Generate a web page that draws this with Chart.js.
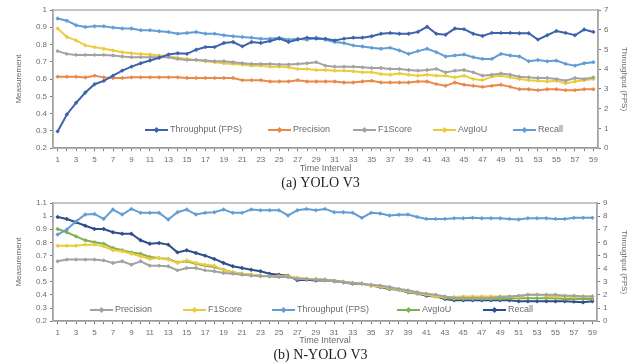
<!DOCTYPE html>
<html>
<head>
<meta charset="utf-8">
<script src="https://cdn.jsdelivr.net/npm/chart.js@4.4.0/dist/chart.umd.min.js"></script>
<style>
  html, body { margin: 0; padding: 0; background: #fff; }
  body { width: 641px; height: 364px; position: relative; overflow: hidden; }
  canvas { position: absolute; left: 0; }
  #chartA { top: 0; }
  #chartB { top: 192px; }
</style>
</head>
<body>
<canvas id="chartA" width="641" height="192"></canvas>
<canvas id="chartB" width="641" height="172"></canvas>
<script>
// time intervals (x categories)
const intervals = ['1','2','3','4','5','6','7','8','9','10','11','12','13','14','15','16','17','18','19','20',
  '21','22','23','24','25','26','27','28','29','30','31','32','33','34','35','36','37','38','39','40',
  '41','42','43','44','45','46','47','48','49','50','51','52','53','54','55','56','57','58','59'];

// (a) YOLO V3
const yoloThroughput = [0.85,1.71,2.30,2.82,3.24,3.41,3.67,3.93,4.13,4.30,4.44,4.58,4.75,4.81,4.78,4.99,5.12,5.12,5.33,5.38,
  5.16,5.38,5.33,5.43,5.55,5.38,5.50,5.60,5.55,5.55,5.46,5.55,5.60,5.60,5.67,5.80,5.84,5.80,5.80,5.89,
  6.15,5.80,5.75,6.06,6.03,5.80,5.68,5.84,5.84,5.84,5.82,5.82,5.50,5.72,5.94,5.84,5.72,6.01,5.89];
const yoloPrecision = [0.614,0.614,0.614,0.610,0.620,0.610,0.606,0.606,0.610,0.610,0.610,0.610,0.610,0.610,0.606,0.606,0.606,0.606,0.606,0.606,
  0.594,0.594,0.594,0.586,0.586,0.586,0.594,0.586,0.586,0.586,0.586,0.580,0.580,0.586,0.590,0.580,0.580,0.580,0.580,
  0.586,0.586,0.571,0.561,0.580,0.567,0.561,0.555,0.561,0.567,0.555,0.541,0.541,0.536,0.541,0.541,0.536,0.536,0.541,0.541];
const yoloF1 = [0.762,0.746,0.740,0.740,0.740,0.740,0.737,0.731,0.727,0.727,0.727,0.727,0.727,0.717,0.711,0.711,0.707,0.703,0.703,0.698,
  0.692,0.688,0.688,0.688,0.684,0.684,0.688,0.692,0.698,0.678,0.672,0.672,0.672,0.668,0.664,0.664,0.659,0.659,0.653,
  0.649,0.653,0.659,0.639,0.649,0.653,0.639,0.620,0.625,0.633,0.625,0.614,0.610,0.606,0.606,0.600,0.590,0.606,0.600,0.610];
const yoloAvgIoU = [0.893,0.844,0.824,0.795,0.785,0.776,0.766,0.756,0.750,0.746,0.742,0.737,0.731,0.723,0.717,0.711,0.703,0.698,0.692,0.688,
  0.684,0.678,0.678,0.672,0.672,0.668,0.659,0.659,0.653,0.653,0.649,0.649,0.645,0.639,0.639,0.629,0.625,0.633,0.625,
  0.620,0.625,0.620,0.620,0.610,0.620,0.600,0.594,0.614,0.620,0.610,0.600,0.594,0.590,0.586,0.590,0.575,0.586,0.594,0.600];
const yoloRecall = [0.951,0.938,0.912,0.902,0.906,0.906,0.898,0.893,0.893,0.883,0.883,0.877,0.873,0.863,0.867,0.873,0.863,0.863,0.854,0.848,
  0.844,0.840,0.834,0.834,0.840,0.828,0.834,0.828,0.840,0.828,0.815,0.809,0.795,0.789,0.781,0.776,0.781,0.766,0.746,
  0.762,0.776,0.756,0.731,0.737,0.742,0.727,0.717,0.717,0.746,0.737,0.731,0.703,0.711,0.703,0.707,0.688,0.678,0.692,0.698];

// (b) N-YOLO V3
const nPrecision = [0.656,0.669,0.669,0.669,0.669,0.663,0.643,0.656,0.630,0.656,0.623,0.623,0.618,0.587,0.605,0.605,0.587,0.580,0.567,0.562,
  0.554,0.547,0.542,0.542,0.537,0.537,0.521,0.521,0.516,0.516,0.504,0.496,0.491,0.486,0.478,0.471,0.460,0.445,0.435,
  0.420,0.410,0.402,0.389,0.377,0.377,0.377,0.377,0.377,0.384,0.389,0.394,0.402,0.402,0.402,0.402,0.394,0.394,0.389,0.389];
const nF1 = [0.775,0.775,0.775,0.783,0.783,0.770,0.740,0.732,0.714,0.694,0.674,0.681,0.669,0.643,0.663,0.643,0.630,0.623,0.587,0.572,
  0.562,0.554,0.547,0.542,0.542,0.542,0.529,0.521,0.521,0.516,0.504,0.496,0.491,0.486,0.471,0.465,0.453,0.440,0.427,
  0.415,0.402,0.389,0.384,0.384,0.389,0.389,0.389,0.389,0.389,0.389,0.384,0.402,0.402,0.394,0.389,0.389,0.384,0.389,0.389];
const nThroughput = [6.60,6.98,7.60,8.12,8.17,7.79,8.50,8.12,8.55,8.25,8.25,8.25,7.74,8.30,8.50,8.12,8.25,8.30,8.50,8.25,
  8.25,8.50,8.45,8.45,8.45,8.05,8.45,8.55,8.45,8.55,8.30,8.30,8.25,7.87,8.25,8.20,8.05,8.10,8.12,
  7.94,7.79,7.79,7.79,7.84,7.84,7.87,7.84,7.84,7.84,7.79,7.74,7.84,7.84,7.84,7.79,7.79,7.87,7.87,7.87];
const nAvgIoU = [0.902,0.877,0.846,0.816,0.801,0.790,0.757,0.740,0.724,0.714,0.689,0.681,0.674,0.648,0.656,0.638,0.623,0.613,0.592,0.572,
  0.562,0.554,0.547,0.542,0.542,0.537,0.529,0.521,0.521,0.516,0.509,0.501,0.491,0.486,0.471,0.465,0.450,0.440,0.425,
  0.415,0.402,0.389,0.377,0.369,0.369,0.369,0.369,0.369,0.369,0.374,0.374,0.374,0.374,0.374,0.374,0.369,0.369,0.369,0.369];
const nRecall = [0.993,0.978,0.953,0.927,0.902,0.902,0.877,0.866,0.866,0.816,0.790,0.795,0.783,0.724,0.740,0.719,0.699,0.674,0.643,0.618,
  0.605,0.592,0.580,0.562,0.554,0.547,0.511,0.516,0.509,0.511,0.504,0.496,0.486,0.486,0.471,0.460,0.445,0.440,0.420,
  0.410,0.394,0.389,0.369,0.359,0.359,0.359,0.359,0.359,0.359,0.359,0.351,0.351,0.351,0.351,0.351,0.351,0.349,0.344,0.351];

const FONT = '"Liberation Sans", Arial, sans-serif';
const TXT = '#6b6b6b';

// plot area frame (Excel style box)
const frame = {
  id: 'frame',
  beforeDatasetsDraw(chart) {
    const { ctx, chartArea: a } = chart;
    ctx.save();
    ctx.strokeStyle = '#b4b4b4';
    ctx.lineWidth = 1.5;
    ctx.strokeRect(a.left, a.top, a.right - a.left, a.bottom - a.top);
    ctx.restore();
  }
};

// legend drawn inside the plot area
const insideLegend = {
  id: 'insideLegend',
  afterDatasetsDraw(chart, args, opts) {
    const { ctx } = chart;
    ctx.save();
    ctx.font = '9px ' + FONT;
    ctx.textBaseline = 'middle';
    chart.data.datasets.forEach((ds, i) => {
      const x = opts.xs[i], y = opts.y;
      ctx.strokeStyle = ds.borderColor;
      ctx.lineWidth = 2;
      ctx.beginPath(); ctx.moveTo(x, y); ctx.lineTo(x + 23, y); ctx.stroke();
      ctx.fillStyle = ds.borderColor;
      ctx.beginPath();
      ctx.moveTo(x + 11.5, y - 3); ctx.lineTo(x + 14.5, y); ctx.lineTo(x + 11.5, y + 3); ctx.lineTo(x + 8.5, y);
      ctx.fill();
      ctx.fillStyle = TXT;
      ctx.fillText(ds.label, x + 25, y);
    });
    ctx.restore();
  }
};

function line(label, data, color, axis) {
  return {
    label, data, yAxisID: axis,
    borderColor: color, backgroundColor: color,
    borderWidth: 2, pointStyle: 'rectRot', pointRadius: 2.2, pointBorderWidth: 0,
    tension: 0, fill: false
  };
}

function makeChart(id, cfg) {
  return new Chart(document.getElementById(id), {
    type: 'line',
    data: { labels: intervals, datasets: cfg.datasets },
    options: {
      responsive: false,
      animation: false,
      devicePixelRatio: 1,
      layout: { padding: { top: cfg.padTop, bottom: 0, left: 0, right: 0 } },
      plugins: {
        legend: { display: false },
        tooltip: { enabled: false },
        title: {
          display: true, position: 'bottom', text: cfg.caption, color: '#222',
          font: { family: '"Liberation Serif", "Times New Roman", serif', size: 14, weight: 'normal' },
          padding: { top: 0, bottom: 0 }
        },
        insideLegend: cfg.legend
      },
      scales: {
        x: {
          offset: true,
          afterFit: s => { s.height = cfg.xHeight; },
          grid: { display: true, drawOnChartArea: false, offset: false, tickLength: 3, color: '#777' },
          border: { color: '#777', width: 1.5 },
          ticks: {
            autoSkip: false, maxRotation: 0, padding: 4, color: TXT,
            font: { family: FONT, size: 8 },
            callback: (v, i) => (i % 2 === 0 ? intervals[i] : '')
          },
          title: { display: true, text: 'Time Interval', color: TXT, font: { family: FONT, size: 9 }, padding: { top: 0, bottom: 1 } }
        },
        y: {
          position: 'left', min: cfg.yMin, max: cfg.yMax,
          afterFit: s => { s.width = 53; },
          grid: { display: true, drawOnChartArea: false, tickLength: 3, color: '#777' },
          border: { color: '#777', width: 1.5 },
          ticks: { stepSize: 0.1, padding: 3, color: TXT, font: { family: FONT, size: 8 },
            callback: v => String(Math.round(v * 10) / 10) },
          title: { display: true, text: 'Measurement', color: TXT, font: { family: FONT, size: 8 }, padding: { top: 14, bottom: 0 } }
        },
        y1: {
          position: 'right', min: 0, max: cfg.y1Max,
          afterFit: s => { s.width = cfg.y1Width; },
          grid: { display: true, drawOnChartArea: false, tickLength: 3, color: '#777' },
          border: { color: '#777', width: 1.5 },
          ticks: { stepSize: 1, padding: 3, color: TXT, font: { family: FONT, size: 8 } },
          title: { display: true, text: 'Throughput (FPS)', color: TXT, font: { family: FONT, size: 8 }, padding: { top: 12, bottom: 0 } }
        }
      }
    },
    plugins: [frame, insideLegend]
  });
}

makeChart('chartA', {
  caption: '(a) YOLO V3',
  padTop: 10, xHeight: 27,
  yMin: 0.2, yMax: 1, y1Max: 7, y1Width: 43,
  legend: { y: 130, xs: [145, 268, 353, 433, 513] },
  datasets: [
    line('Throughput (FPS)', yoloThroughput, '#3d63ac', 'y1'),
    line('Precision', yoloPrecision, '#e9894a', 'y'),
    line('F1Score', yoloF1, '#a2a2a2', 'y'),
    line('AvgIoU', yoloAvgIoU, '#eccb3c', 'y'),
    line('Recall', yoloRecall, '#629dd4', 'y')
  ]
});

makeChart('chartB', {
  caption: '(b) N-YOLO V3',
  padTop: 11, xHeight: 26,
  yMin: 0.2, yMax: 1.1, y1Max: 9, y1Width: 44,
  legend: { y: 118, xs: [90, 183, 272, 397, 483] },
  datasets: [
    line('Precision', nPrecision, '#a2a2a2', 'y'),
    line('F1Score', nF1, '#eccb3c', 'y'),
    line('Throughput (FPS)', nThroughput, '#629dd4', 'y1'),
    line('AvgIoU', nAvgIoU, '#7fb152', 'y'),
    line('Recall', nRecall, '#2f4d8c', 'y')
  ]
});
</script>
</body>
</html>
